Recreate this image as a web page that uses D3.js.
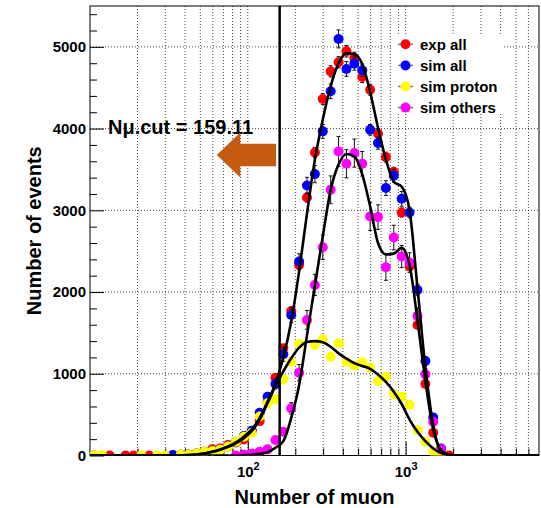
<!DOCTYPE html>
<html><head><meta charset="utf-8">
<script src="https://cdn.jsdelivr.net/npm/d3@7"></script>
<style>
body{margin:0;background:#fff}
svg{display:block}
text{font-family:"Liberation Sans",Arial,Helvetica,sans-serif;font-weight:bold;fill:#000}
</style>
</head><body><div id="chart"></div>
<script>
// ---------- DATA ----------
const muonBins = [10.59, 11.89, 13.34, 14.96, 16.79, 18.84, 21.13, 23.71, 26.61, 29.85,
  33.50, 37.58, 42.17, 47.32, 53.09, 59.57, 66.83, 74.99, 84.14, 94.41,
  105.9, 118.9, 133.4, 149.6, 167.9, 188.4, 211.3, 237.1, 266.1, 298.5,
  335.0, 375.8, 421.7, 473.2, 530.9, 595.7, 668.3, 749.9, 841.4, 944.1,
  1059, 1189, 1334, 1496, 1679, 1884];

const expAll = [0, null, 0, null, 0, 0, null, 0, null, null,
  3, 8, 12, 20, 45, 75, 87, 127, 160, 197,
  299, 421, 650, 952, 1312, 1769, 2332, 3157, 3708, 4362,
  4700, 4811, 4946, 4864, 4631, 4476, 3937, 3651, 3468, 2973,
  2312, 1597, 875, 278, 33, 0];
const expAllErr = [0, 0, 0, 0, 0, 0, 0, 0, 0, 0,
  2, 3, 4, 5, 7, 9, 9, 11, 13, 14,
  17, 21, 26, 31, 36, 42, 48, 56, 61, 66,
  69, 69, 70, 70, 68, 67, 63, 60, 59, 55,
  48, 40, 30, 17, 6, 0];

const simAll = [null, null, null, null, null, null, null, null, null, null,
  5, 8, 10, 25, 45, 55, 70, 110, 168, 239,
  303, 523, 719, 875, 1238, 1720, 2373, 3304, 3443, 3966,
  4456, 5097, 4730, 4795, 4713, 3985, 3823, 3272, 3423, 3141,
  2973, 2026, 1156, 466, 85, null];
const simAllErr = [0, 0, 0, 0, 0, 0, 0, 0, 0, 0,
  3, 4, 5, 8, 12, 14, 16, 20, 25, 30,
  35, 45, 50, 60, 85, 90, 95, 100, 105, 85,
  90, 110, 90, 80, 75, 65, 75, 90, 80, 90,
  65, 70, 55, 40, 15, 0];

const simProton = [0, 5, null, null, null, null, 0, null, 0, 0,
  null, 8, 10, 25, 45, 55, 70, 110, 168, 229,
  278, 478, 638, 687, 932, 1148, 1365, 1645, 1352, 1422,
  1209, 1373, 1148, 1099, 1140, 1075, 911, 964, 748, 719,
  620, 311, 168, 45, 10, null];
const simProtonErr = [0, 0, 0, 0, 0, 0, 0, 0, 0, 0,
  2, 3, 3, 5, 7, 8, 9, 11, 14, 16,
  18, 24, 28, 29, 34, 38, 41, 45, 41, 42,
  39, 41, 38, 37, 38, 37, 34, 35, 31, 30,
  28, 20, 15, 8, 4, 0];

const simOthers = [null, null, null, null, null, null, null, null, null, null,
  null, null, null, null, null, null, null, null, 0, 10,
  25, 45, 75, 189, 290, 577, 1013, 1659, 2087, 2549,
  3251, 3720, 3570, 3700, 3570, 2924, 2917, 2304, 2667, 2434,
  2361, 1708, 993, 413, 75, null];
const simOthersErr = [0, 0, 0, 0, 0, 0, 0, 0, 0, 0,
  0, 0, 0, 0, 0, 0, 0, 0, 3, 5,
  8, 12, 18, 35, 45, 70, 100, 115, 130, 150,
  170, 184, 172, 172, 150, 170, 150, 160, 150, 135,
  120, 100, 70, 45, 18, 0];

// smooth fit curves
const curveX = [10, 10.59, 11.89, 13.34, 14.96, 16.79, 18.84, 21.13, 23.71, 26.61, 29.85,
  33.50, 37.58, 42.17, 47.32, 53.09, 59.57, 66.83, 74.99, 84.14, 94.41,
  105.9, 118.9, 133.4, 149.6, 167.9, 188.4, 211.3, 237.1, 266.1, 298.5,
  335.0, 375.8, 421.7, 473.2, 530.9, 595.7, 668.3, 749.9, 841.4, 944.1,
  1059, 1189, 1334, 1496, 1679, 1884, 2113, 7000];
const fitAll = [0, 0, 0, 0, 0, 0, 0, 0, 0, 0, 0,
  0, 3, 6, 12, 25, 45, 75, 110, 160, 230,
  320, 460, 660, 880, 1200, 1640, 2250, 2960, 3620, 4110,
  4520, 4800, 4920, 4910, 4790, 4450, 4010, 3620, 3350, 3290,
  3000, 2050, 1080, 370, 50, 5, 0, 0];
const fitOthers = [0, 0, 0, 0, 0, 0, 0, 0, 0, 0, 0,
  0, 0, 0, 0, 0, 0, 0, 0, 0, 4,
  10, 20, 40, 95, 175, 460, 860, 1470, 2080, 2680,
  3250, 3560, 3690, 3660, 3440, 3050, 2600, 2460, 2470, 2540,
  2330, 1650, 910, 320, 65, 8, 0, 0];
const fitProton = [0, 0, 0, 0, 0, 0, 0, 0, 0, 0, 0,
  0, 3, 6, 12, 25, 45, 70, 105, 150, 210,
  300, 440, 640, 850, 1030, 1190, 1320, 1390, 1400, 1385,
  1330, 1250, 1185, 1130, 1095, 1060, 990, 900, 780, 630,
  440, 290, 175, 85, 30, 6, 0, 0];

const yMajorTicks = [0, 1000, 2000, 3000, 4000, 5000];
const xLabelTicks = [100, 1000];
const cutValue = 159.11;
const cutLabel = "N\u03bc.cut = 159.11";
const arrowFrom = 151, arrowTo = 63.6, arrowLevel = 3677;
const legendNames = ["exp all", "sim all", "sim proton", "sim others"];
const seriesColors = ["#ff0000", "#0000ff", "#ffff00", "#ff00ff"];

// ---------- LAYOUT ----------
const W = 541, H = 508;
const L = 90, R = 539, T = 6, B = 455.5;
const x = d3.scaleLog().domain([10, 7000]).range([L, R]);
const y = d3.scaleLinear().domain([0, 5500]).range([B, T]);

const svg = d3.select("#chart").append("svg").attr("width", W).attr("height", H)
  .style("background", "#fff");
svg.append("defs").append("clipPath").attr("id", "frame")
  .append("rect").attr("x", L).attr("y", T).attr("width", R - L).attr("height", B - T);

// grid
const grid = svg.append("g").attr("stroke", "#333").attr("stroke-width", 0.9)
  .attr("stroke-dasharray", "1,2");
grid.selectAll(null).data(x.ticks().filter(v => v > 10 && v < 7000)).enter().append("line")
  .attr("x1", d => x(d)).attr("x2", d => x(d)).attr("y1", T).attr("y2", B);
grid.selectAll(null).data(yMajorTicks.filter(v => v > 0)).enter().append("line")
  .attr("x1", L).attr("x2", R).attr("y1", d => y(d)).attr("y2", d => y(d));

// y axis ticks
const yMinor = d3.range(0, 5500, 200).filter(v => v % 1000 !== 0);
const yAx = svg.append("g").attr("transform", `translate(${L},0)`)
  .call(d3.axisLeft(y).tickValues(yMajorTicks).tickSize(-14).tickPadding(4).tickFormat(d3.format("d")));
yAx.select(".domain").remove();
yAx.selectAll("text").style("font-size", "15px").style("font-family", "Liberation Sans, Arial, sans-serif").style("font-weight", "bold").attr("fill", "#000");
yAx.selectAll("line").attr("stroke", "#000");
const yAxm = svg.append("g").attr("transform", `translate(${L},0)`)
  .call(d3.axisLeft(y).tickValues(yMinor).tickSize(-7).tickFormat(""));
yAxm.select(".domain").remove();
yAxm.selectAll("line").attr("stroke", "#000");

// x axis ticks
const xMinor = x.ticks().filter(v => v > 10 && v < 7000 && !xLabelTicks.includes(v));
const xAx = svg.append("g").attr("transform", `translate(0,${B})`)
  .call(d3.axisBottom(x).tickValues(xLabelTicks).tickSize(-14).tickFormat(""));
xAx.select(".domain").remove();
xAx.selectAll("line").attr("stroke", "#000");
const xAxm = svg.append("g").attr("transform", `translate(0,${B})`)
  .call(d3.axisBottom(x).tickValues(xMinor).tickSize(-7).tickFormat(""));
xAxm.select(".domain").remove();
xAxm.selectAll("line").attr("stroke", "#000");
xAx.selectAll(".tick").each(function(d) {
  const t = d3.select(this).append("text").attr("y", 21).attr("text-anchor", "middle")
    .style("font-size", "15px").style("font-family", "Liberation Sans, Arial, sans-serif")
    .style("font-weight", "bold").attr("fill", "#000");
  t.append("tspan").text("10");
  t.append("tspan").attr("dy", -7).style("font-size", "11px").text(String(Math.round(Math.log10(d))));
});

// frame
svg.append("rect").attr("x", L).attr("y", T).attr("width", R - L).attr("height", B - T)
  .attr("fill", "none").attr("stroke", "#000").attr("stroke-width", 1);

// data points
const plot = svg.append("g").attr("clip-path", "url(#frame)");
const seriesList = [[expAll, expAllErr], [simAll, simAllErr], [simProton, simProtonErr], [simOthers, simOthersErr]];
seriesList.forEach(([vals, errs], si) => {
  const pts = muonBins.map((m, i) => ({m, v: vals[i], e: errs[i]})).filter(p => p.v !== null);
  const g = plot.append("g");
  const eb = pts.filter(p => p.e > 0);
  g.selectAll(null).data(eb).enter().append("line")
    .attr("x1", p => x(p.m)).attr("x2", p => x(p.m))
    .attr("y1", p => y(p.v - p.e)).attr("y2", p => y(p.v + p.e))
    .attr("stroke", "#111").attr("stroke-width", 1);
  [-1, 1].forEach(s => {
    g.selectAll(null).data(eb).enter().append("line")
      .attr("x1", p => x(p.m) - 2).attr("x2", p => x(p.m) + 2)
      .attr("y1", p => y(p.v + s * p.e))
      .attr("y2", p => y(p.v + s * p.e))
      .attr("stroke", "#111").attr("stroke-width", 1);
  });
  g.selectAll(null).data(pts).enter().append("circle")
    .attr("cx", p => x(p.m)).attr("cy", p => y(p.v)).attr("r", 5)
    .attr("fill", seriesColors[si]);
});

// curves
const line = d3.line().x(d => x(d[0])).y(d => y(d[1])).curve(d3.curveMonotoneX);
[fitAll, fitOthers, fitProton].forEach(f => {
  plot.append("path").datum(curveX.map((m, i) => [m, f[i]]))
    .attr("d", line).attr("fill", "none").attr("stroke", "#000").attr("stroke-width", 2.6);
});

// cut line
svg.append("line").attr("x1", x(cutValue)).attr("x2", x(cutValue)).attr("y1", T).attr("y2", B)
  .attr("stroke", "#000").attr("stroke-width", 2.5);

// cut label
svg.append("text").attr("x", 108).attr("y", 133.5).style("font-size", "20px").text(cutLabel);

// arrow (in data coordinates)
const ax0 = x(arrowFrom), ax1 = x(arrowTo), ay = y(arrowLevel);
const headBack = ax1 + 23.5, sh = 11.3, hh = 22.5;
svg.append("path")
  .attr("d", `M${ax1},${ay} L${headBack},${ay - hh} L${headBack},${ay - sh} L${ax0},${ay - sh} L${ax0},${ay + sh} L${headBack},${ay + sh} L${headBack},${ay + hh} Z`)
  .attr("fill", "#c55a11");

// legend
const lg = svg.append("g");
lg.append("rect").attr("x", 393).attr("y", 36).attr("width", 109).attr("height", 78).attr("fill", "#fff");
legendNames.forEach((name, i) => {
  const cy = 44.3 + i * 21.1;
  lg.append("line").attr("x1", 398).attr("x2", 413).attr("y1", cy).attr("y2", cy)
    .attr("stroke", "#777").attr("stroke-width", 1.5);
  lg.append("circle").attr("cx", 405.5).attr("cy", cy).attr("r", 5).attr("fill", seriesColors[i]);
  lg.append("text").attr("x", 420).attr("y", cy + 5.3).style("font-size", "15px").text(name);
});

// axis titles
svg.append("text").attr("x", (L + R) / 2).attr("y", 504).attr("text-anchor", "middle")
  .style("font-size", "20px").text("Number of muon");
svg.append("text").attr("transform", `translate(40.5,${(T + B) / 2}) rotate(-90)`)
  .attr("text-anchor", "middle").style("font-size", "20px").text("Number of events");
</script>
</body></html>
